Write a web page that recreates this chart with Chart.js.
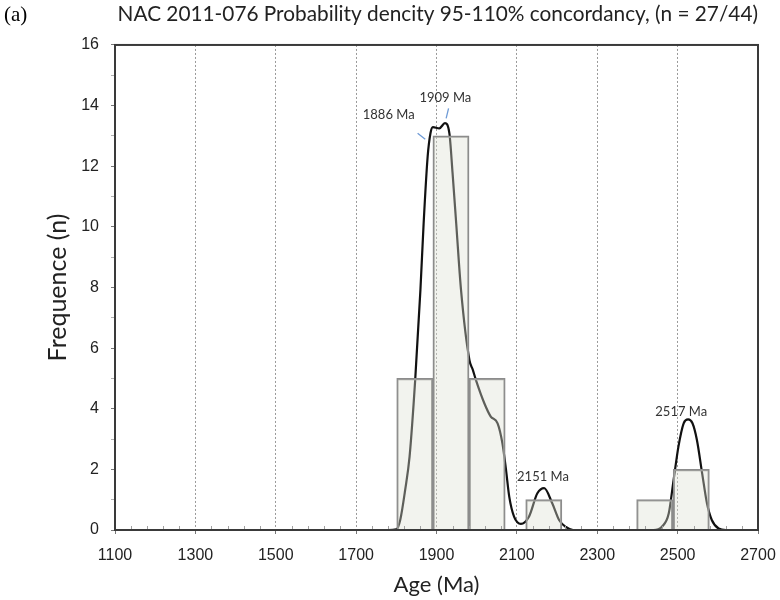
<!DOCTYPE html>
<html>
<head>
<meta charset="utf-8">
<script src="https://cdn.jsdelivr.net/npm/chart.js@4/dist/chart.umd.min.js"></script>
<style>
  html, body { margin: 0; padding: 0; background: #fff; }
  #wrap { width: 780px; height: 600px; position: relative; }
</style>
</head>
<body>
<div id="wrap"><canvas id="chart" width="780" height="600"></canvas></div>
<script>
// Histogram bins (centre of each bin, Ma) and counts
const binCenters = [1846, 1936, 2026, 2167, 2443, 2534];
const binCounts = [5, 13, 5, 1, 1, 2];

// Probability density curve
const pdfAges = [1100, 1780, 1800, 1810, 1822, 1833, 1847, 1860, 1868, 1878, 1885, 1891, 1907, 1921, 1932, 1940, 1949, 1961, 1982, 1990, 1998, 2019, 2035, 2052, 2064, 2073, 2081, 2093, 2110, 2130, 2151, 2168, 2188, 2205, 2222, 2240, 2440, 2461, 2478, 2490, 2502, 2515, 2526, 2537, 2548, 2561, 2573, 2585, 2602, 2620, 2700];
const pdfValues = [0, 0, 0.02, 0.35, 1.32, 2.42, 4.95, 7.92, 10.12, 12.32, 13.09, 13.29, 13.25, 13.42, 13.09, 11.77, 10.12, 7.92, 5.6, 5.3, 4.95, 4.18, 3.74, 3.52, 2.86, 1.98, 1.10, 0.44, 0.2, 0.44, 1.21, 1.38, 0.88, 0.33, 0.1, 0, 0, 0.11, 0.55, 1.65, 2.75, 3.52, 3.65, 3.52, 2.97, 1.87, 0.88, 0.33, 0.05, 0, 0];

// Peak labels (text, age and height in data units)
const peakLabels = ['1886 Ma', '1909 Ma', '2151 Ma', '2517 Ma'];
const peakLabelAges = [1781, 1922, 2165, 2509];
const peakLabelY = [13.7, 14.26, 1.76, 3.9];

const xTickStart = 1100;
const xTickEnd = 2700;
const xMajorStep = 200;
const xMinorStep = 40;

// Draws minor ticks, the plot frame, panel letter and the peak annotations
const extrasPlugin = {
    id: 'extras',
    afterDatasetsDraw(chart) {
        const ctx = chart.ctx;
        const area = chart.chartArea;
        const xs = chart.scales.x;
        const ys = chart.scales.y;

        ctx.save();
        // minor ticks on the age axis, pointing into the plot
        ctx.strokeStyle = '#a0a0a0';
        ctx.lineWidth = 1;
        ctx.beginPath();
        for (let v = xTickStart + xMinorStep; v < xTickEnd; v += xMinorStep) {
            if ((v - xTickStart) % xMajorStep === 0) continue;
            const px = Math.round(xs.getPixelForValue(v)) + 0.5;
            ctx.moveTo(px, area.bottom);
            ctx.lineTo(px, area.bottom - 4);
        }
        ctx.stroke();

        // blue leader lines to the two main peaks
        ctx.strokeStyle = '#6f9bd6';
        ctx.lineWidth = 1.3;
        ctx.beginPath();
        ctx.moveTo(xs.getPixelForValue(1853), ys.getPixelForValue(13.09));
        ctx.lineTo(xs.getPixelForValue(1872), ys.getPixelForValue(12.89));
        ctx.moveTo(xs.getPixelForValue(1930), ys.getPixelForValue(13.91));
        ctx.lineTo(xs.getPixelForValue(1924), ys.getPixelForValue(13.58));
        ctx.stroke();

        ctx.font = '13px Lato';
        ctx.fillStyle = '#333';
        ctx.textAlign = 'center';
        ctx.textBaseline = 'middle';
        peakLabels.forEach((txt, i) => {
            ctx.fillText(txt, xs.getPixelForValue(peakLabelAges[i]), ys.getPixelForValue(peakLabelY[i]));
        });

        // frame around the plot area
        ctx.strokeStyle = '#3a3a3a';
        ctx.lineWidth = 2;
        ctx.strokeRect(area.left, area.top, area.right - area.left, area.bottom - area.top);

        // panel letter
        ctx.font = '21px "Liberation Serif"';
        ctx.fillStyle = '#000';
        ctx.textAlign = 'left';
        ctx.fillText('(a)', 4, 15);
        ctx.restore();
    }
};

const ctx = document.getElementById('chart');

new Chart(ctx, {
    type: 'bar',
    data: {
        datasets: [
            {
                type: 'bar',
                label: 'Histogram',
                data: binCenters.map((c, i) => ({ x: c, y: binCounts[i] })),
                backgroundColor: 'rgba(222,223,210,0.38)',
                borderColor: '#8c8c8c',
                borderWidth: 1.5,
                barPercentage: 1,
                categoryPercentage: 1,
                order: 0
            },
            {
                type: 'line',
                label: 'Probability density',
                data: pdfAges.map((a, i) => ({ x: a, y: pdfValues[i] })),
                borderColor: '#111',
                borderWidth: 2.2,
                pointRadius: 0,
                cubicInterpolationMode: 'monotone',
                fill: false,
                order: 1
            }
        ]
    },
    options: {
        responsive: false,
        animation: false,
        layout: { padding: { left: 0, right: 22, top: 0, bottom: 0 } },
        plugins: {
            legend: { display: false },
            tooltip: { enabled: false },
            title: {
                display: true,
                text: 'NAC 2011-076 Probability dencity 95-110% concordancy, (n = 27/44)',
                color: '#222',
                font: { family: 'Lato', size: 20.8, weight: 'normal' },
                padding: { top: 2, bottom: 18 },
                align: 'end'
            }
        },
        scales: {
            x: {
                type: 'linear',
                min: xTickStart,
                max: xTickEnd,
                offset: false,
                afterFit: function(scale) {
                    scale.height = 70;
                    // let the layout padding alone decide the right edge
                    scale.paddingLeft = 0;
                    scale.paddingRight = 0;
                },
                ticks: {
                    stepSize: xMajorStep,
                    autoSkip: false,
                    maxRotation: 0,
                    padding: 12,
                    color: '#222',
                    font: { family: 'Liberation Sans', size: 16 },
                    callback: function(value) { return String(value); }
                },
                grid: {
                    offset: false,
                    color: '#9a9a9a',
                    lineWidth: 1,
                    tickColor: '#777',
                    tickLength: 4
                },
                border: { display: false, dash: [2, 2] },
                title: {
                    display: true,
                    text: 'Age (Ma)',
                    color: '#222',
                    font: { family: 'Lato', size: 22 },
                    padding: { top: 2, bottom: 2 }
                }
            },
            y: {
                min: 0,
                max: 16,
                afterFit: function(scale) { scale.width = 115; },
                ticks: {
                    stepSize: 1,
                    autoSkip: false,
                    padding: 12,
                    color: '#222',
                    font: { family: 'Liberation Sans', size: 16 },
                    callback: function(value) {
                        return value % 2 === 0 ? value : '';
                    }
                },
                grid: {
                    color: 'transparent',
                    tickColor: function(c) {
                        return (c.tick && c.tick.value % 2 !== 0) ? '#b0b0b0' : '#777';
                    },
                    tickLength: 4
                },
                border: { display: false },
                title: {
                    display: true,
                    text: 'Frequence (n)',
                    color: '#222',
                    font: { family: 'Lato', size: 25 },
                    padding: { top: 43, bottom: 0 }
                }
            }
        }
    },
    plugins: [extrasPlugin]
});
</script>
</body>
</html>
